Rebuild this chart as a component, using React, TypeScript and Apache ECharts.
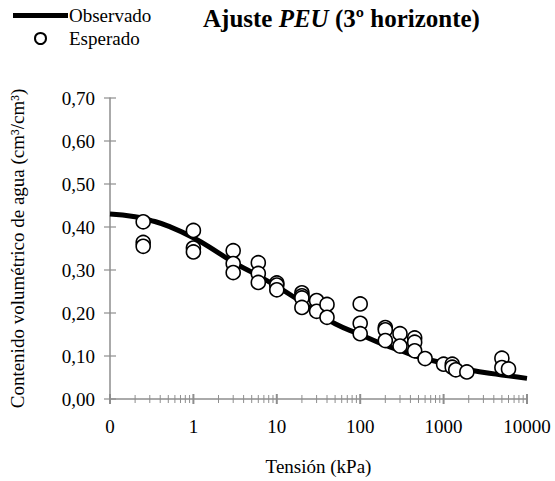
import React, { useEffect, useRef } from "react";
import * as echarts from "echarts";

const FONT = "'Liberation Serif', 'Times New Roman', serif";

// Fitted curve (Observado)
const curveX = [0.1, 0.2, 0.3, 0.5, 1, 2, 3, 5, 10, 20, 30, 50, 100, 200, 300, 500, 1000, 2000, 5000, 10000];
const curveY = [0.43, 0.424, 0.416, 0.402, 0.375, 0.34, 0.318, 0.295, 0.262, 0.225, 0.202, 0.175, 0.15, 0.125, 0.113, 0.098, 0.083, 0.068, 0.056, 0.048];

// Expected points (Esperado)
const pointX = [
  0.25, 0.25, 0.25,
  1, 1, 1,
  3, 3, 3,
  6, 6, 6,
  10, 10, 10,
  20, 20, 20, 20,
  30, 30,
  40, 40,
  100, 100, 100,
  200, 200, 200,
  300, 300,
  450, 450, 450,
  600, 1000, 1270, 1270, 1400, 1900,
  5000, 5000, 6000,
];
const pointY = [
  0.412, 0.364, 0.355,
  0.392, 0.351, 0.342,
  0.345, 0.315, 0.294,
  0.317, 0.292, 0.271,
  0.27, 0.265, 0.254,
  0.247, 0.24, 0.235, 0.213,
  0.229, 0.204,
  0.22, 0.19,
  0.221, 0.176, 0.152,
  0.166, 0.161, 0.136,
  0.152, 0.123,
  0.142, 0.132, 0.112,
  0.094, 0.081, 0.081, 0.074, 0.068, 0.063,
  0.095, 0.073, 0.07,
];

// Axis ticks
const xMajorTicks = [0.1, 1, 10, 100, 1000, 10000];
const xMinorMultipliers = [2, 3, 4, 5, 6, 7, 8, 9];
const yTicks = [0, 0.1, 0.2, 0.3, 0.4, 0.5, 0.6, 0.7];

const AXIS_COLOR = "#8e8e8e";

export default function App() {
  const ref = useRef<HTMLDivElement>(null);

  useEffect(() => {
    if (!ref.current) return;
    const chart = echarts.init(ref.current, null, { renderer: "svg" });

    const xMinor: number[][] = [];
    for (let i = 0; i < xMajorTicks.length - 1; i++) {
      for (const m of xMinorMultipliers) xMinor.push([xMajorTicks[i] * m, 0]);
    }

    const tickSeries = (data: number[][], size: number[]) => ({
      type: "scatter",
      data,
      symbol: "rect",
      symbolSize: size,
      itemStyle: { color: AXIS_COLOR, opacity: 1 },
      silent: true,
      clip: false,
      z: 1,
      legendHoverLink: false,
    });

    chart.setOption({
      animation: false,
      backgroundColor: "#fff",
      textStyle: { fontFamily: FONT },
      title: {
        text: "{b|Ajuste }{bi|PEU}{b| (3º horizonte)}",
        left: 198,
        top: 1,
        textStyle: {
          rich: {
            b: { fontFamily: FONT, fontSize: 25, fontWeight: "bold", color: "#000" },
            bi: { fontFamily: FONT, fontSize: 25, fontWeight: "bold", fontStyle: "italic", color: "#000" },
          },
        },
      },
      legend: {
        orient: "vertical",
        left: 13,
        top: 6,
        padding: 0,
        itemWidth: 55,
        itemHeight: 11,
        itemGap: 4,
        textStyle: { fontFamily: FONT, fontSize: 19, color: "#000", padding: [0, 0, 0, -4] },
        data: [
          { name: "Observado", icon: "path://M0,0H54V5H0Z", itemStyle: { color: "#000" } },
          { name: "Esperado", icon: "circle" },
        ],
      },
      grid: { left: 107, right: 28, top: 98, bottom: 76 },
      xAxis: {
        type: "log",
        logBase: 10,
        min: 0.1,
        max: 10000,
        name: "Tensión (kPa)",
        nameLocation: "middle",
        nameGap: 58,
        nameTextStyle: { fontFamily: FONT, fontSize: 19, color: "#000" },
        axisLine: { lineStyle: { color: AXIS_COLOR, width: 1.5 } },
        axisTick: { show: false },
        splitLine: { show: false },
        axisLabel: {
          margin: 18,
          fontFamily: FONT,
          fontSize: 19,
          color: "#000",
          formatter: (v: number) => (v < 0.5 ? "0" : String(Math.round(v))),
        },
      },
      yAxis: {
        type: "value",
        min: 0,
        max: 0.7,
        interval: 0.1,
        name: "Contenido volumétrico de agua (cm³/cm³)",
        nameLocation: "middle",
        nameGap: 83,
        nameTextStyle: { fontFamily: FONT, fontSize: 19, color: "#000" },
        axisLine: { show: true, lineStyle: { color: AXIS_COLOR, width: 1.5 } },
        axisTick: { show: false },
        splitLine: { show: false },
        axisLabel: {
          margin: 15,
          fontFamily: FONT,
          fontSize: 19,
          color: "#000",
          formatter: (v: number) => v.toFixed(2).replace(".", ","),
        },
      },
      series: [
        tickSeries(xMinor, [1, 8]),
        tickSeries(xMajorTicks.map((v) => [v, 0]), [2, 10]),
        tickSeries(yTicks.map((v) => [0.1, v]), [12, 1.2]),
        {
          name: "Observado",
          type: "line",
          data: curveX.map((x, i) => [x, curveY[i]]),
          smooth: true,
          symbol: "none",
          lineStyle: { color: "#000", width: 5 },
          itemStyle: { color: "#000" },
          z: 2,
        },
        {
          name: "Esperado",
          type: "scatter",
          data: pointX.map((x, i) => [x, pointY[i]]),
          symbol: "circle",
          symbolSize: 14,
          itemStyle: { color: "#fff", borderColor: "#000", borderWidth: 1.6, opacity: 1 },
          z: 3,
        },
      ],
    });

    return () => chart.dispose();
  }, []);

  return (
    <div
      ref={ref}
      style={{ position: "absolute", left: 0, top: 0, width: 555, height: 481 }}
    />
  );
}
